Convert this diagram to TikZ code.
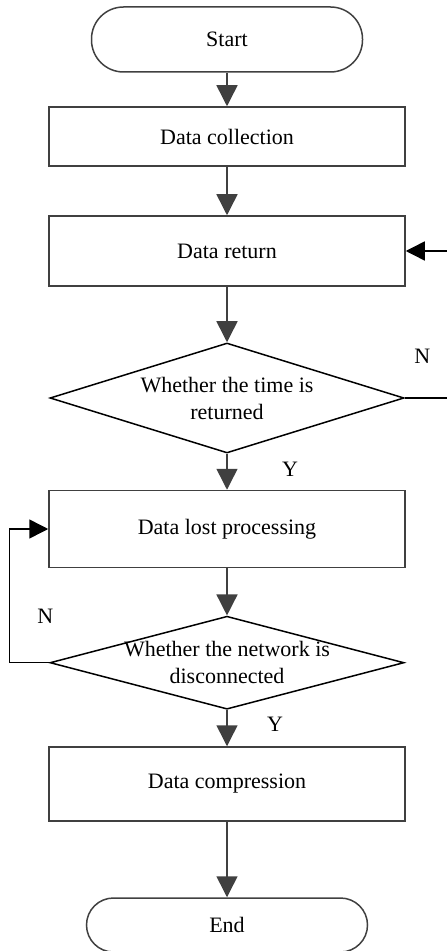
\documentclass[tikz,border=0pt]{standalone}
\usepackage{fontspec}
\setmainfont{Liberation Serif}
\usetikzlibrary{positioning,shapes.geometric,arrows.meta}
\definecolor{linegray}{HTML}{404040}
\tikzset{
  terminal/.style={draw=linegray, line width=0.75pt, rectangle, rounded corners=16pt, minimum width=135.5pt, minimum height=32.5pt},
  process/.style={draw=linegray, line width=0.75pt, rectangle, minimum width=178pt},
  decision/.style={draw=black, line width=0.75pt, diamond, minimum width=177pt, inner sep=0pt},
  flow/.style={draw=linegray, line width=0.75pt, -{Triangle[length=10.5pt,width=10.5pt]}},
  backflow/.style={draw=black, line width=0.75pt, -{Triangle[length=9.5pt,width=9.5pt]}},
}
\begin{document}
\begin{tikzpicture}[every node/.style={font=\fontsize{11}{13.5}\selectfont}]
        \useasboundingbox (0,0) rectangle (223pt,-475.5pt);
        % Nodes
        \node[terminal] (start) at (113.5pt,-19.75pt) {Start};
        \node[process, minimum height=29.5pt, below of=start, node distance=48.5pt] (collect) {Data collection};
        \node[process, minimum height=35pt, below of=collect, node distance=57.25pt] (ret) {Data return};
        \node[decision, minimum height=55pt, below of=ret, node distance=73.5pt] (dec1) {};
        \node[align=center] (dec1txt) at (dec1) {Whether the time is\\returned};
        \node[process, minimum height=38.5pt, below of=dec1, node distance=65.5pt] (lost) {Data lost processing};
        \node[decision, minimum height=46.5pt, below of=lost, node distance=66.85pt] (dec2) {};
        \node[align=center] (dec2txt) at (dec2) {Whether the network is\\disconnected};
        \node[process, minimum height=37pt, below of=dec2, node distance=60.65pt] (comp) {Data compression};
        \node[terminal, rounded corners=13.5pt, minimum width=140.5pt, minimum height=27pt, below of=comp, node distance=70.5pt] (end) {End};
        % Turning points
        \coordinate (rightturn) at ([xshift=21.5pt]dec1.east);
        \coordinate (leftturn) at ([xshift=-20pt]dec2.west);
        % Arrows
        \draw[flow] (start) -- (collect);
        \draw[flow] (collect) -- (ret);
        \draw[flow] (ret) -- (dec1);
        \draw[flow] (dec1) -- node[midway, xshift=31.5pt, yshift=1.4pt] {Y} (lost);
        \draw[flow] (lost) -- (dec2);
        \draw[flow] (dec2) -- node[midway, xshift=24pt, yshift=2pt] {Y} (comp);
        \draw[flow] (comp) -- (end);
        % Feedback arrows
        \draw[backflow] (dec1.east) -- node[midway, xshift=-2pt, yshift=21pt] {N} (rightturn) |- (ret.east);
        \draw[backflow] (dec2.west) -- node[midway, xshift=8pt, yshift=23.3pt] {N} (leftturn) |- (lost.west);
\end{tikzpicture}
\end{document}
